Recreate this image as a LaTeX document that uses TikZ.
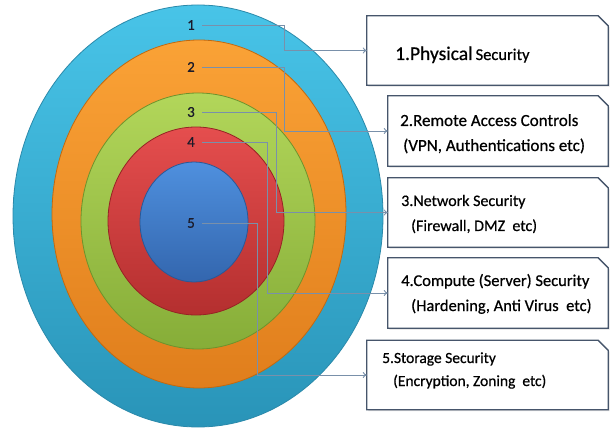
\documentclass[tikz,border=0pt]{standalone}
\usepackage{fontspec}
\setmainfont{Carlito}
\newfontfamily\heavy{Carlito}[FakeBold=0.6]
\usetikzlibrary{arrows.meta}

% ring colours
\definecolor{ringAtop}{HTML}{48C4E8}
\definecolor{ringAbot}{HTML}{2994B8}
\definecolor{ringAedge}{HTML}{2A89AA}
\definecolor{ringBtop}{HTML}{FAA236}
\definecolor{ringBbot}{HTML}{E07E1C}
\definecolor{ringBedge}{HTML}{C2690F}
\definecolor{ringCtop}{HTML}{B2D65A}
\definecolor{ringCbot}{HTML}{86AD38}
\definecolor{ringCedge}{HTML}{6E932C}
\definecolor{ringDtop}{HTML}{E54E4E}
\definecolor{ringDbot}{HTML}{B42F2F}
\definecolor{ringDedge}{HTML}{962424}
\definecolor{ringEtop}{HTML}{4F90DE}
\definecolor{ringEbot}{HTML}{3366AE}
\definecolor{ringEedge}{HTML}{2A5896}
\definecolor{connclr}{HTML}{7990AA}
\definecolor{boxclr}{HTML}{46556B}
\definecolor{numclr}{HTML}{1B1B2A}

\tikzset{
  ring/.style n args={3}{top color=#1, bottom color=#2, draw=#3, line width=0.8pt},
  num/.style={inner sep=0pt, text=numclr, font=\heavy\fontsize{15}{16}\selectfont},
  conn/.style={draw=connclr, line width=0.9pt, -{To[length=4pt,width=6pt]}},
  boxbase/.style={draw=none, inner sep=0pt},
  boxline/.style={draw=boxclr, line width=1.3pt, fill=white, line join=miter},
  lbl/.style={inner sep=0pt, anchor=base west, text=black, font=\heavy},
}

% outline of a box whose top right corner is cut off
\newcommand\cutbox[1]{%
  \fill[black!12] ([xshift=1.5pt,yshift=-1.5pt]#1.north west) -- ([xshift=-8.5pt,yshift=-1.5pt]#1.north east)
    -- ([xshift=1.5pt,yshift=-11.5pt]#1.north east) -- ([xshift=1.5pt,yshift=-1.5pt]#1.south east)
    -- ([xshift=1.5pt,yshift=-1.5pt]#1.south west) -- cycle;
  \path[boxline] (#1.north west) -- ([xshift=-10pt]#1.north east)
    -- ([yshift=-10pt]#1.north east) -- (#1.south east) -- (#1.south west) -- cycle;}

\begin{document}
\begin{tikzpicture}[x=1pt, y=-1pt]
\useasboundingbox[fill=white] (0,0) rectangle (610,430);

% concentric rings, outermost first
\path[ring={ringAtop}{ringAbot}{ringAedge}] (198,216) ellipse [x radius=185pt, y radius=211pt];
\path[ring={ringBtop}{ringBbot}{ringBedge}] (199,214) ellipse [x radius=147pt, y radius=174pt];
\path[ring={ringCtop}{ringCbot}{ringCedge}] (198,221) ellipse [x radius=117pt, y radius=128pt];
\path[ring={ringDtop}{ringDbot}{ringDedge}] (196,221) ellipse [x radius=88pt, y radius=94pt];
\path[ring={ringEtop}{ringEbot}{ringEedge}] (194,222) ellipse [x radius=54pt, y radius=60pt];

% layer numbers
\node[num] (n1) at (191,25) {1};
\node[num] (n2) at (191,67) {2};
\node[num] (n3) at (191,112) {3};
\node[num] (n4) at (191,142) {4};
\node[num] (n5) at (191,223) {5};

% description boxes
\node[boxbase, minimum width=241pt, minimum height=69pt] (b1) at (487.5,50.5) {};
\node[boxbase, minimum width=220pt, minimum height=70pt] (b2) at (498,131) {};
\node[boxbase, minimum width=220pt, minimum height=69pt] (b3) at (498,212.5) {};
\node[boxbase, minimum width=220pt, minimum height=70pt] (b4) at (498,293) {};
\node[boxbase, minimum width=241pt, minimum height=69pt] (b5) at (487.5,375) {};
\cutbox{b1}\cutbox{b2}\cutbox{b3}\cutbox{b4}\cutbox{b5}

% box texts
\node[lbl] (t1) at (395,60) {\fontsize{19.5}{20}\selectfont 1.Physical\hspace{3pt}\fontsize{16.5}{17}\selectfont Security};
\node[lbl] (t2a) at (400,126) {\fontsize{17}{18}\selectfont 2.Remote Access Controls};
\node[lbl] (t2b) at (403,151) {\fontsize{17}{18}\selectfont (VPN, Authentications etc)};
\node[lbl] (t3a) at (401,206) {\fontsize{16}{17}\selectfont 3.Network Security};
\node[lbl] (t3b) at (411,231) {\fontsize{16}{17}\selectfont (Firewall, DMZ~ etc)};
\node[lbl] (t4a) at (401,286) {\fontsize{16.5}{17}\selectfont 4.Compute (Server) Security};
\node[lbl] (t4b) at (411,311) {\fontsize{16.5}{17}\selectfont (Hardening, Anti Virus~ etc)};
\node[lbl] (t5a) at (382,363) {\fontsize{15.5}{16}\selectfont 5.Storage Security};
\node[lbl] (t5b) at (393,386) {\fontsize{15.5}{16}\selectfont (Encryption, Zoning~ etc)};

% bend columns of the connectors
\coordinate (k1) at (284,0);
\coordinate (k2) at (284,0);
\coordinate (k3) at (276,0);
\coordinate (k4) at (267,0);
\coordinate (k5) at (257,0);

% connectors from layer numbers to boxes
\draw[conn] ([xshift=7pt]n1.east) -- (n1.east -| k1) |- (b1.west);
\draw[conn] ([xshift=7pt]n2.east) -- (n2.east -| k2) |- (b2.west);
\draw[conn] ([xshift=7pt]n3.east) -- (n3.east -| k3) |- (b3.west);
\draw[conn] ([xshift=7pt]n4.east) -- (n4.east -| k4) |- (b4.west);
\draw[conn] ([xshift=7pt]n5.east) -- (n5.east -| k5) |- (b5.west);
\end{tikzpicture}
\end{document}
